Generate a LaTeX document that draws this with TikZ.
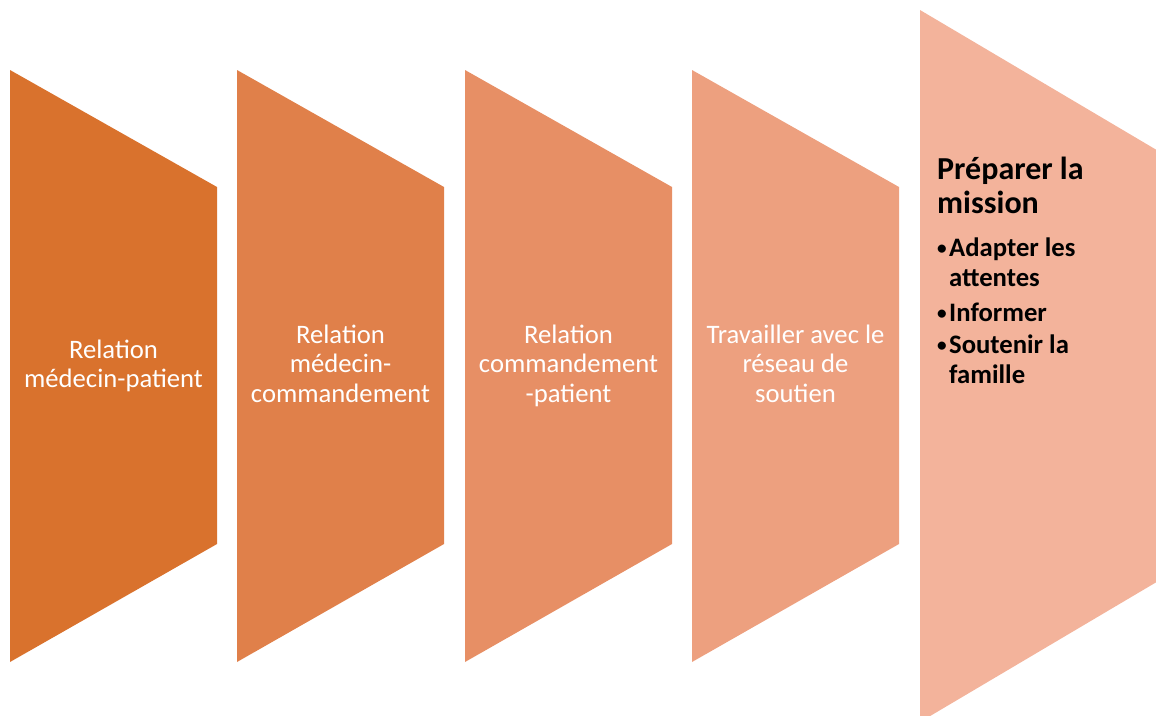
\documentclass[tikz,border=0pt]{standalone}
\usepackage{fontspec}
\setmainfont{Carlito}
\definecolor{cA}{HTML}{D9722D}
\definecolor{cB}{HTML}{E0804A}
\definecolor{cC}{HTML}{E78F65}
\definecolor{cD}{HTML}{EDA07F}
\definecolor{cE}{HTML}{F3B39B}
\newcommand{\mybul}{\makebox[12pt][l]{\raisebox{2pt}{\scalebox{0.72}{•}}}}
\begin{document}
\begin{tikzpicture}[x=1pt,y=-1pt,
  wl/.style={anchor=base,text=white,inner sep=0pt,font=\fontsize{26.67}{29.3}\selectfont},
  hl/.style={anchor=base west,inner sep=0pt,text=black,font=\fontsize{32}{35}\selectfont\bfseries},
  bl/.style={anchor=base west,inner sep=0pt,text=black,font=\fontsize{26.67}{29.3}\selectfont\bfseries}]
\useasboundingbox (0,0) rectangle (1156,715);
\begin{scope}
\clip (0,0) rectangle (1156,715);
\fill[cA] (10,70) -- (217,187) -- (217,544) -- (10,662) -- cycle;
\fill[cB] (237,70) -- (444,187) -- (444,544) -- (237,662) -- cycle;
\fill[cC] (465,70) -- (672,187) -- (672,544) -- (465,662) -- cycle;
\fill[cD] (692,70) -- (899,187) -- (899,544) -- (692,662) -- cycle;
\fill[cE] (920,10) -- (1160,152) -- (1160,580) -- (920,722) -- cycle;
\end{scope}
% shape 1
\node[wl] (a1) at (113.5,358) {Relation};
\node[wl] (a2) at (113.5,387) {médecin-patient};
% shape 2
\node[wl] (b1) at (340.5,343) {Relation};
\node[wl] (b2) at (340.5,372) {médecin-};
\node[wl] (b3) at (340.5,402) {commandement};
% shape 3
\node[wl] (c1) at (568.5,343) {Relation};
\node[wl] (c2) at (568.5,372) {commandement};
\node[wl] (c3) at (568.5,402) {-patient};
% shape 4
\node[wl] (d1) at (795.5,343) {Travailler avec le};
\node[wl] (d2) at (795.5,372) {réseau de};
\node[wl] (d3) at (795.5,402) {soutien};
% shape 5
\node[hl] (e1) at (937,179) {Préparer la};
\node[hl] (e2) at (937,213) {mission};
\node[bl] (e3) at (937,256) {\mybul Adapter les};
\node[bl] (e4) at (949,286) {attentes};
\node[bl] (e5) at (937,321) {\mybul Informer};
\node[bl] (e6) at (937,353) {\mybul Soutenir la};
\node[bl] (e7) at (949,383) {famille};
\end{tikzpicture}
\end{document}
